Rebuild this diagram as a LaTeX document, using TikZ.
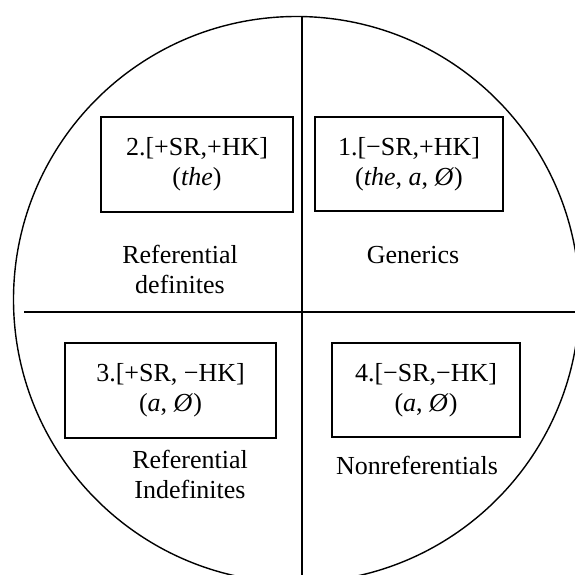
\documentclass[tikz,border=0pt]{standalone}
\usepackage{fontspec}
\setmainfont{Liberation Serif}
\begin{document}
\begin{tikzpicture}[x=1pt,y=-1pt,
  txt/.style={font=\fontsize{26}{30}\selectfont},
  box/.style={txt, draw, line width=1.6pt, align=center, inner sep=0pt},
  lbl/.style={txt, align=center, inner sep=0pt},
  rule/.style={line width=1.4pt}]
\useasboundingbox (0,0) rectangle (575,575);
\fill[white] (0,0) rectangle (575,575);
\clip (0,0) rectangle (575,575);
% outer circle
\node[circle, draw, rule, minimum size=566pt, inner sep=0pt] (c) at (296.5,299.5) {};
% dividing lines
\coordinate (vtop) at (302,16.5);
\coordinate (vbot) at (302,580);
\coordinate (hl) at (24,312);
\coordinate (hr) at (580,312);
\draw[rule] (vtop) -- (vbot);
\draw[rule] (hl) -- (hr);
% boxes
\node[box, minimum width=188pt, minimum height=94pt] (b1) at (409,164)
  {1.[−SR,+HK]\\(\textit{the}, \textit{a}, \textit{Ø})};
\node[box, minimum width=192pt, minimum height=95pt] (b2) at (197,164.5)
  {2.[+SR,+HK]\\(\textit{the})};
\node[box, minimum width=211pt, minimum height=95pt] (b3) at (170.5,390.5)
  {3.[+SR, −HK]\\(\textit{a}, \textit{Ø})};
\node[box, minimum width=188pt, minimum height=94pt] (b4) at (426,390)
  {4.[−SR,−HK]\\(\textit{a}, \textit{Ø})};
% labels
\node[lbl] (l2) at (180,269) {Referential\\definites};
\node[lbl, anchor=base] (l1) at (413,263) {Generics};
\node[lbl] (l3) at (190,474) {Referential\\Indefinites};
\node[lbl, anchor=base] (l4) at (417,474) {Nonreferentials};
\end{tikzpicture}
\end{document}
